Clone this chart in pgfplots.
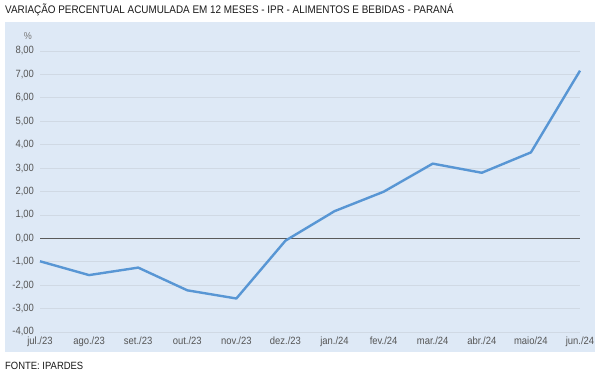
\documentclass[border=0pt]{standalone}
\usepackage{fontspec}
\setmainfont{Liberation Sans}[FakeStretch=0.9]
\usepackage{pgfplots}
\pgfplotsset{compat=1.18}
\definecolor{panel}{RGB}{222,233,246}
\definecolor{gridc}{RGB}{208,217,228}
\definecolor{zeroc}{RGB}{90,90,90}
\definecolor{linec}{RGB}{88,150,212}
\definecolor{tickc}{RGB}{85,85,85}
\begin{document}
\begin{tikzpicture}
\path[use as bounding box] (0pt,0pt) rectangle (600pt,374pt);
\fill[panel] (5pt,22pt) rectangle (595pt,352pt);
\node[anchor=base west, inner sep=0, font=\fontsize{11}{13}\selectfont, text=black!90] at (5pt,360pt) {VARIAÇÃO PERCENTUAL ACUMULADA EM 12 MESES - IPR - ALIMENTOS E BEBIDAS - PARANÁ};
\node[anchor=base west, inner sep=0, font=\fontsize{10.5}{12}\selectfont, text=black!90] at (5pt,4pt) {FONTE: IPARDES};
\node[font=\fontsize{10}{12}\selectfont, text=tickc!80] at (28pt,338pt) {\%};
\begin{axis}[
  at={(40pt,42pt)}, anchor=south west,
  scale only axis, width=540pt, height=281pt,
  xmin=0, xmax=11, ymin=-4, ymax=8,
  xtick={0,...,11},
  xticklabels={jul./23,ago./23,set./23,out./23,nov./23,dez./23,jan./24,fev./24,mar./24,abr./24,maio/24,jun./24},
  ytick={-4,...,8},
  axis line style={draw=none},
  major tick style={draw=none},
  ymajorgrids,
  grid style={color=gridc, line width=0.7pt},
  extra y ticks={0},
  extra y tick labels={},
  extra y tick style={grid style={color=zeroc, line width=1pt}},
  clip=false,
  /pgf/number format/.cd, fixed, fixed zerofill, precision=2, use comma, assume math mode=true,
  /pgfplots/.cd,
  ticklabel style={font=\fontsize{10.5}{12}\selectfont, text=tickc},
  yticklabel style={xshift=-2.5pt},
  xticklabel style={yshift=-1pt},
]
\addplot[color=linec, line width=2.4pt, line join=round] coordinates {
(0,-0.98) (1,-1.57) (2,-1.25) (3,-2.22) (4,-2.57) (5,-0.10)
(6,1.16) (7,1.99) (8,3.19) (9,2.80) (10,3.67) (11,7.16)
};
\end{axis}
\end{tikzpicture}
\end{document}
